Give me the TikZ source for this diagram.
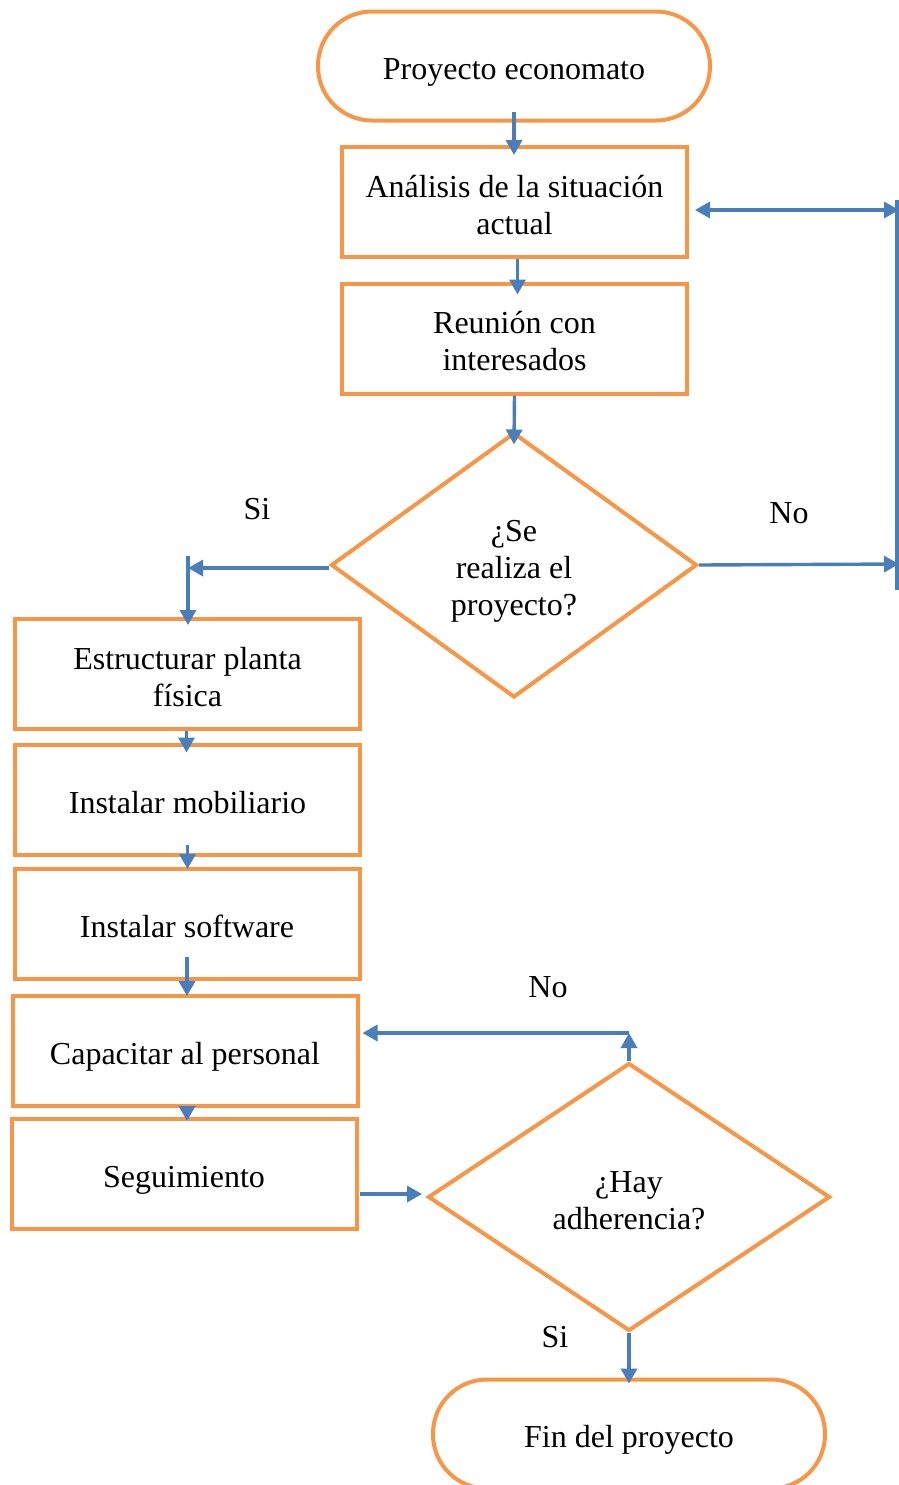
\documentclass[tikz,border=0pt]{standalone}
\usepackage{fontspec}
\setmainfont{Liberation Serif}
\usetikzlibrary{shapes.geometric,arrows.meta}
\definecolor{flowor}{HTML}{F79646}
\definecolor{flowbl}{HTML}{4A7EBB}
\newcommand{\tx}[1]{\raisebox{-7.5pt}[0pt][0pt]{\begin{tabular}{@{}c@{}}#1\end{tabular}}}
\begin{document}
\begin{tikzpicture}[x=0.5pt,y=-0.5pt,
  every node/.style={font=\fontsize{16}{18.5}\selectfont, inner sep=0pt},
  term/.style={draw=flowor, line width=2pt, rectangle, rounded corners=27pt, minimum width=196pt, minimum height=54.5pt},
  stepbox/.style={draw=flowor, line width=2pt, rectangle, minimum width=172.5pt, minimum height=55pt},
  decis/.style={draw=flowor, line width=2pt, diamond},
  lbl/.style={font=\fontsize{16}{18.5}\selectfont},
  arr/.style={draw=flowbl, line width=1.7pt, -{Triangle[length=7.5pt,width=8pt]}},
  arrb/.style={draw=flowbl, line width=1.7pt, {Triangle[length=7.5pt,width=8pt]}-{Triangle[length=7.5pt,width=8pt]}},
  ln/.style={draw=flowbl, line width=1.7pt}
]
\useasboundingbox (0,0) rectangle (899,1485);
\node[term] (start) at (514,66) {\tx{Proyecto economato}};
\node[stepbox] (a1) at (514.5,202) {\tx{Análisis de la situación\\actual}};
\node[stepbox] (a2) at (514.5,338.5) {\tx{Reunión con\\interesados}};
\node[decis, minimum width=183pt, minimum height=132.5pt] (d1) at (514,565) {\tx{¿Se\\realiza el\\proyecto?}};
\node[stepbox] (b1) at (187.5,674) {\tx{Estructurar planta\\física}};
\node[stepbox] (b2) at (187.5,799.5) {\tx{Instalar mobiliario}};
\node[stepbox] (b3) at (187,924) {\tx{Instalar software}};
\node[stepbox] (b4) at (185,1051) {\tx{Capacitar al personal}};
\node[stepbox] (b5) at (184,1174) {\tx{Seguimiento}};
\node[decis, minimum width=201pt, minimum height=134pt] (d2) at (629,1197) {\tx{¿Hay\\adherencia?}};
\node[term] (fin) at (629,1434) {\tx{Fin del proyecto}};

\node[lbl] (si1) at (257,509) {Si};
\node[lbl] (no1) at (789,513) {No};
\node[lbl] (no2) at (548,987) {No};
\node[lbl] (si2) at (555,1337) {Si};

\coordinate (r1) at (899,564);
\coordinate (r2) at (899,210);
\coordinate (rtop) at (897,200);
\coordinate (rbot) at (897,590);
\coordinate (l1) at (188,568);
\coordinate (l1t) at (188,556);
\coordinate (u2) at (629,1033);
\coordinate (s1) at (360,1194);

% main column
\draw[arr] ([yshift=5.5pt]start.south) -- ([yshift=-5pt]start.south |- a1.north);
\draw[arr] ([xshift=1.5pt]a1.south) -- ([xshift=1.5pt,yshift=-6.5pt]a1.south |- a2.north);
\draw[arr] (a2.south) -- ([yshift=-7pt]d1.north);

% No loop right
\draw[arr] (d1.east) -- (r1);
\draw[ln] (rtop) -- (rbot);
\draw[arrb] ([xshift=3pt]r2 -| a1.east) -- (r2);

% Si branch left
\draw[arr] (l1 -| d1.west) -- (l1);
\draw[arr] (l1t) -- ([yshift=-4pt]l1t |- b1.north);

% left column
\draw[arr] ([xshift=-0.5pt]b1.south) -- ([xshift=-0.5pt,yshift=-5pt]b1.south |- b2.north);
\draw[arr] ([yshift=6pt]b2.south) -- ([yshift=-1pt]b2.south |- b3.north);
\draw[arr] ([yshift=12pt]b3.south) -- ([yshift=-1pt]b3.south |- b4.north);
\draw[arr] ([xshift=1pt]b4.south) -- ([xshift=1pt,yshift=-2pt]b4.south |- b5.north);

% Seguimiento -> decision 2
\draw[arr] (s1) -- ([xshift=-2pt]s1 -| d2.west);

% No loop back
\draw[arr] (d2.north) -- (u2);
\draw[arr] (u2) -- ([xshift=1.5pt]u2 -| b4.east);

% Si to end
\draw[arr] (d2.south) -- ([yshift=-3pt]fin.north);
\end{tikzpicture}
\end{document}
